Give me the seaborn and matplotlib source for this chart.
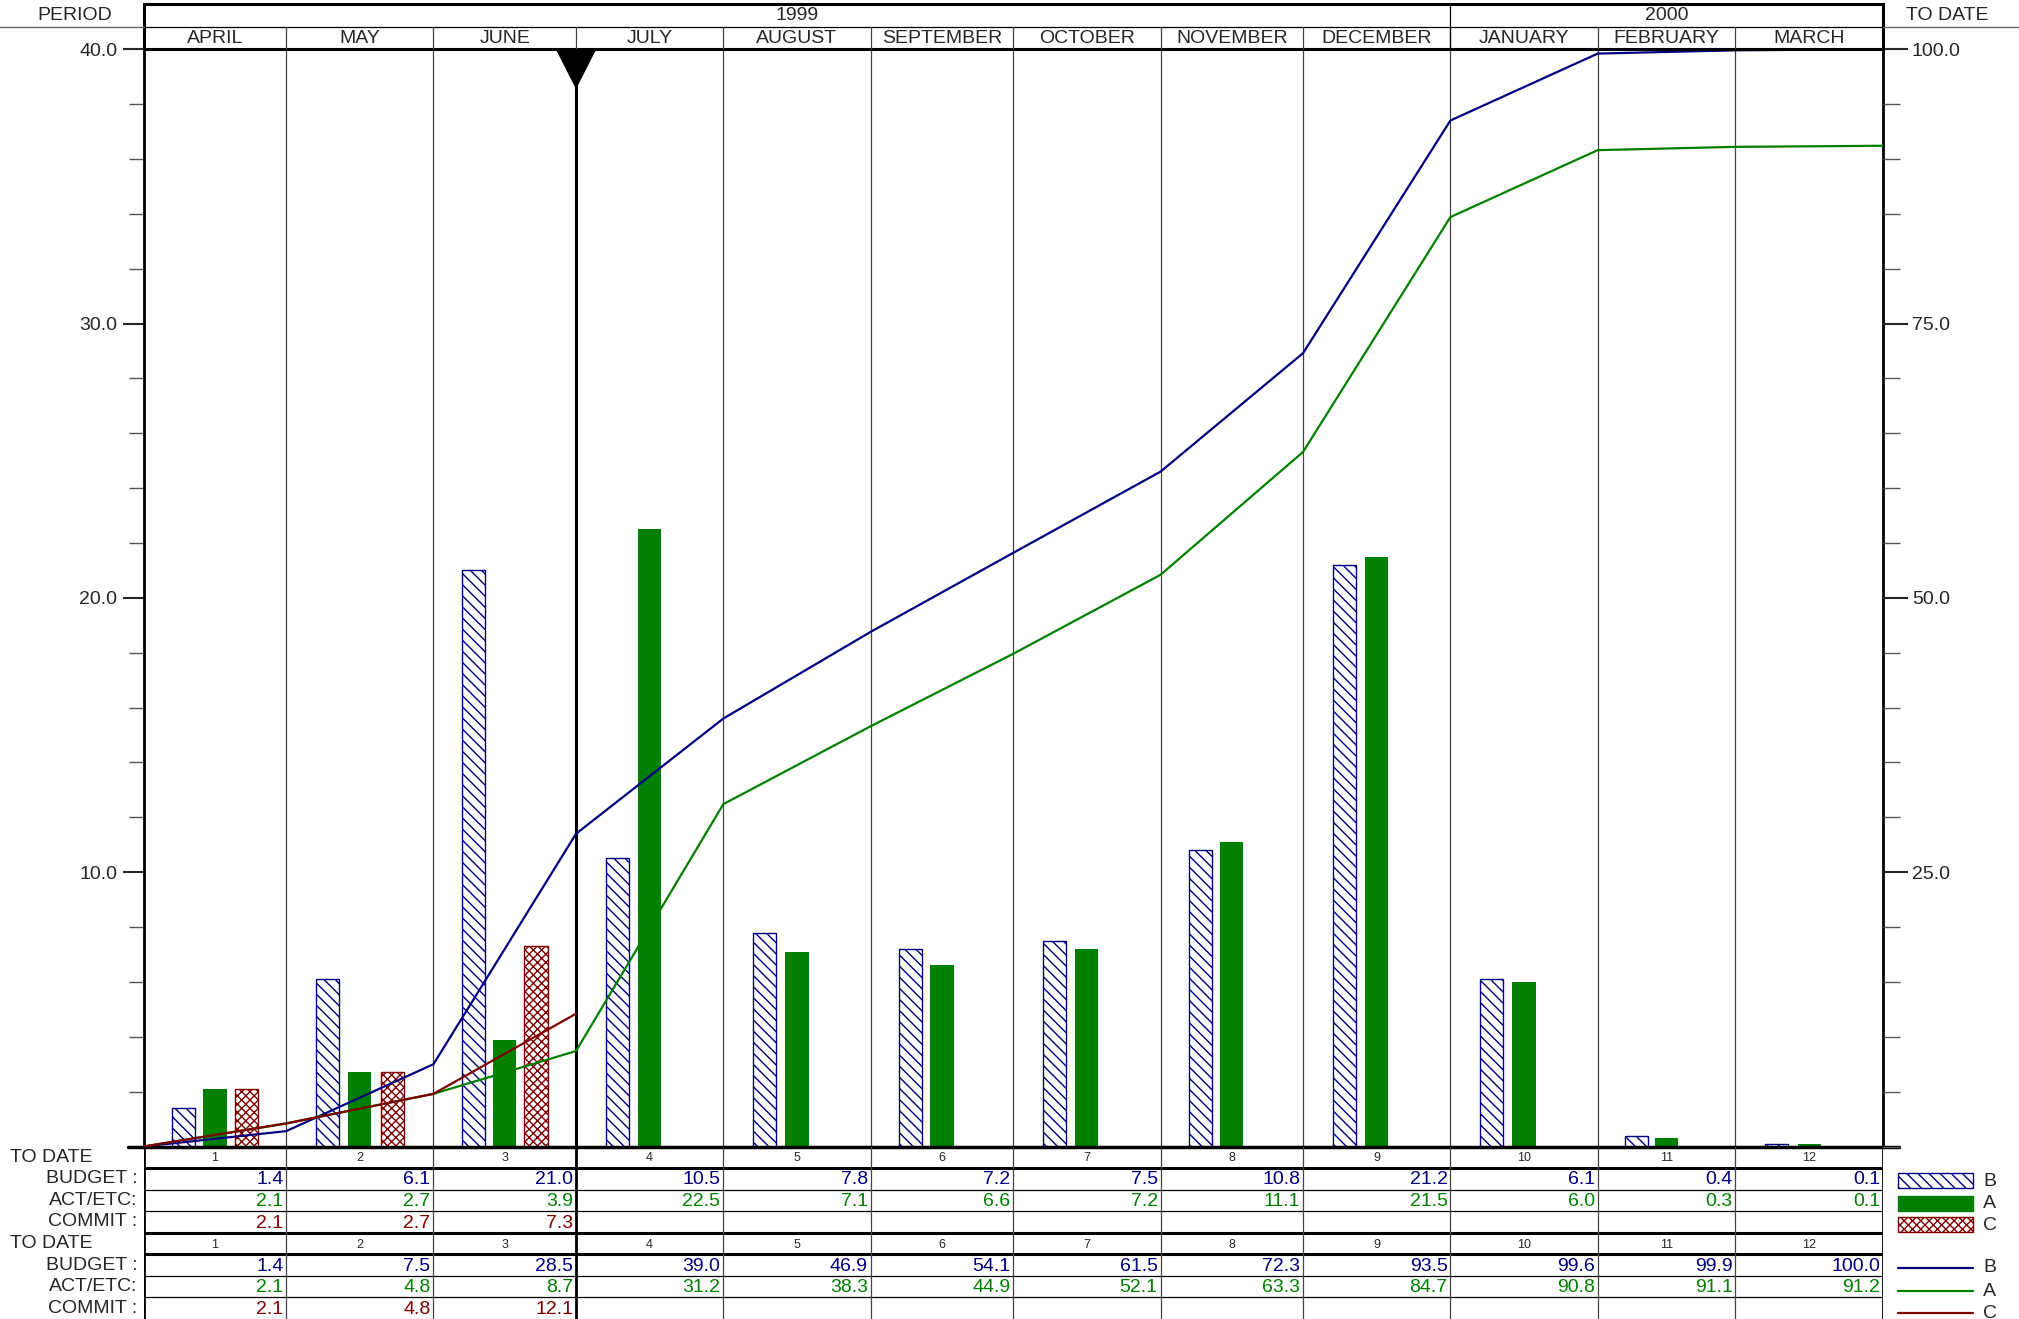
import numpy as np
import pandas as pd
import matplotlib
matplotlib.use("Agg")
import matplotlib.pyplot as plt
import matplotlib.transforms as mtransforms
from matplotlib.patches import Rectangle, Polygon
import seaborn as sns

# data
months = ["APRIL", "MAY", "JUNE", "JULY", "AUGUST", "SEPTEMBER", "OCTOBER",
          "NOVEMBER", "DECEMBER", "JANUARY", "FEBRUARY", "MARCH"]
month_days = [30, 31, 30, 31, 31, 30, 31, 30, 31, 31, 29, 31]
budget = [1.4, 6.1, 21.0, 10.5, 7.8, 7.2, 7.5, 10.8, 21.2, 6.1, 0.4, 0.1]
actual = [2.1, 2.7, 3.9, 22.5, 7.1, 6.6, 7.2, 11.1, 21.5, 6.0, 0.3, 0.1]
commit = [2.1, 2.7, 7.3]
budget_cum = [1.4, 7.5, 28.5, 39.0, 46.9, 54.1, 61.5, 72.3, 93.5, 99.6, 99.9, 100.0]
actual_cum = [2.1, 4.8, 8.7, 31.2, 38.3, 44.9, 52.1, 63.3, 84.7, 90.8, 91.1, 91.2]
commit_cum = [2.1, 4.8, 12.1]
cursor_month = 3  # status date: end of June

NAVY, GREEN, RED = "#000080", "#008000", "#800000"
FS = 14

sns.set_style("white")
plt.rcParams['font.family'] = ['Liberation Sans', 'DejaVu Sans']
plt.rcParams['hatch.linewidth'] = 1.0

W, H = 2019, 1319
fig = plt.figure(figsize=(W / 100, H / 100), dpi=100)
L, R, T, B = 143.6, 1882.8, 49.2, 1146.5
fx = lambda p: p / W
fy = lambda p: 1 - p / H

ends = np.cumsum(month_days)
starts = ends - np.array(month_days)
mids = (starts + ends) / 2
total = ends[-1]

# ---------------- main chart
ax = fig.add_axes([fx(L), fy(B), fx(R - L), (B - T) / H])
ax.set_xlim(0, total)
ax.set_ylim(0, 40)
bw = 4.9
ax.bar(starts + 0.28 * np.array(month_days), budget, width=bw, facecolor="white",
       edgecolor=NAVY, hatch="\\\\\\", linewidth=1.0, zorder=2)
ax.bar(starts + 0.50 * np.array(month_days), actual, width=bw, color=GREEN,
       linewidth=0, zorder=2)
nc = len(commit)
ax.bar(starts[:nc] + 0.72 * np.array(month_days[:nc]), commit, width=bw, facecolor="white",
       edgecolor=RED, hatch="xxxx", linewidth=1.0, zorder=2)
for e in ends[:-1]:
    lw, c = (2.2, "black") if e == ends[cursor_month - 1] else (0.9, "#444444")
    ax.axvline(e, color=c, lw=lw, zorder=1)
ax.set_yticks([10, 20, 30, 40])
ax.set_yticklabels(["10.0", "20.0", "30.0", "40.0"])
ax.set_yticks(np.arange(0, 41, 2), minor=True)
ax.tick_params(axis="y", which="major", direction="out", length=15, width=1.5,
               labelsize=FS, pad=4, left=True, right=False)
ax.tick_params(axis="y", which="minor", direction="out", length=11, width=1.0,
               color="#555555", left=True)
ax.set_xticks([])
for s in ["left", "right", "top"]:
    ax.spines[s].set_linewidth(2)
    ax.spines[s].set_color("black")
ax.spines["bottom"].set_visible(False)
trb = mtransforms.blended_transform_factory(ax.transAxes, ax.transData)
ax.plot([-0.0092, 1.0092], [0, 0], color="black", lw=2.5, transform=trb, clip_on=False, zorder=5)
# status triangle
cx = ends[cursor_month - 1]
tra = mtransforms.blended_transform_factory(ax.transData, ax.transAxes)
ax.add_patch(Polygon([[cx - 4.1, 1.0], [cx + 4.1, 1.0], [cx, 0.965]], closed=True,
                     color="black", transform=tra, clip_on=False, zorder=6))

ax2 = ax.twinx()
ax2.set_ylim(0, 100)
xs = np.concatenate([[0], ends])
lines = pd.DataFrame({"x": xs, "B": [0] + budget_cum, "A": [0] + actual_cum})
sns.lineplot(data=lines, x="x", y="B", color=NAVY, lw=1.6, ax=ax2, zorder=4)
sns.lineplot(data=lines, x="x", y="A", color=GREEN, lw=1.6, ax=ax2, zorder=4)
cl = pd.DataFrame({"x": xs[:nc + 1], "C": [0] + commit_cum})
sns.lineplot(data=cl, x="x", y="C", color=RED, lw=1.6, ax=ax2, zorder=4)
ax2.set_ylabel("")
ax2.set_xlabel("")
ax.set_xlabel("")
ax2.set_yticks([25, 50, 75, 100])
ax2.set_yticklabels(["25.0", "50.0", "75.0", "100.0"])
ax2.set_yticks(np.arange(0, 101, 5), minor=True)
ax2.tick_params(axis="y", which="major", direction="out", length=18, width=1.5,
                labelsize=FS, pad=3, right=True, left=False)
ax2.tick_params(axis="y", which="minor", direction="out", length=12, width=1.0,
                color="#555555", right=True)
for s in ax2.spines.values():
    s.set_visible(False)
ax2.set_xlim(0, total)

# ---------------- header
hT = 3.9
hx = fig.add_axes([fx(L), fy(T), fx(R - L), (T - hT) / H])
hx.set_xlim(0, total)
hx.set_ylim(2, 0)
hx.axis("off")
hx.add_patch(Rectangle((0, 0), total, 2, fill=False, lw=2.2, edgecolor="black", clip_on=False))
hx.plot([0, total], [1, 1], color="black", lw=0.9)
for e in ends[:-1]:
    hx.plot([e, e], [1, 2], color="#444444", lw=0.9)
jan = starts[months.index("JANUARY")]
hx.plot([jan, jan], [0, 2], color="black", lw=0.9)
for m, x in zip(months, mids):
    hx.text(x, 1.52, m, ha="center", va="center", fontsize=FS)
hx.text(jan / 2, 0.52, "1999", ha="center", va="center", fontsize=FS)
hx.text((jan + total) / 2, 0.52, "2000", ha="center", va="center", fontsize=FS)
fig.add_artist(plt.Line2D([0, fx(L)], [fy(27.2)] * 2, color="#666666", lw=1.0))
fig.add_artist(plt.Line2D([fx(R), 1], [fy(27.2)] * 2, color="#666666", lw=1.0))
fig.text(fx(75), fy(16), "PERIOD", ha="center", va="center", fontsize=FS)
fig.text(fx(1947), fy(16), "TO DATE", ha="center", va="center", fontsize=FS)

# ---------------- tables
tx = fig.add_axes([fx(L), 0, fx(R - L), (H - B) / H])
tx.set_xlim(0, total)
tx.set_ylim(8, 0)
tx.axis("off")
for r in range(1, 8):
    thick = r in (1, 4, 5)
    tx.plot([0, total], [r, r], color="black", lw=2.2 if thick else 0.9)
for e in np.concatenate([[0], ends]):
    thick = e in (0, total, ends[cursor_month - 1])
    tx.plot([e, e], [0, 8], color="black" if thick else "#444444", lw=2.0 if thick else 0.9)

row_names = ["BUDGET :", "ACT/ETC:", "COMMIT :"]
trt = mtransforms.blended_transform_factory(tx.transAxes, tx.transData)
pad = 0.6
for block, (b, a, c) in enumerate([(budget, actual, commit),
                                   (budget_cum, actual_cum, commit_cum)]):
    y0 = block * 4
    tx.text(-0.0766, y0 + 0.5, "TO DATE", transform=trt, ha="left", va="center", fontsize=FS)
    for i, name in enumerate(row_names):
        tx.text(-0.0035, y0 + 1.5 + i, name, transform=trt, ha="right", va="center", fontsize=FS)
    for k, x in enumerate(mids):
        tx.text(x, y0 + 0.55, str(k + 1), ha="center", va="center", fontsize=9)
    for vals, row, col in [(b, 1, NAVY), (a, 2, GREEN), (c, 3, RED)]:
        for k, v in enumerate(vals):
            tx.text(ends[k] - pad, y0 + row + 0.55, f"{v:.1f}", ha="right", va="center",
                    fontsize=FS, color=col)

# ---------------- legend
lg = fig.add_axes([fx(1890), 0, fx(W - 1890), (H - B) / H])
lg.set_xlim(1890, W)
lg.set_ylim(H, B)
lg.axis("off")
lg.add_patch(Rectangle((1898, 1173), 75, 15, facecolor="white", edgecolor=NAVY, hatch="\\\\\\", lw=1))
lg.add_patch(Rectangle((1898, 1196), 75, 15, facecolor=GREEN, edgecolor=GREEN, lw=1))
lg.add_patch(Rectangle((1898, 1217), 75, 15, facecolor="white", edgecolor=RED, hatch="xxxx", lw=1))
for yy, lab in zip([1181, 1204, 1225], ["B", "A", "C"]):
    lg.text(1983, yy, lab, ha="left", va="center", fontsize=FS)
for yy, col, lab in zip([1268, 1291, 1313], [NAVY, GREEN, RED], ["B", "A", "C"]):
    lg.plot([1898, 1973], [yy, yy], color=col, lw=1.6)
    lg.text(1983, yy, lab, ha="left", va="center", fontsize=FS)

fig.savefig("out.png", dpi=100)
